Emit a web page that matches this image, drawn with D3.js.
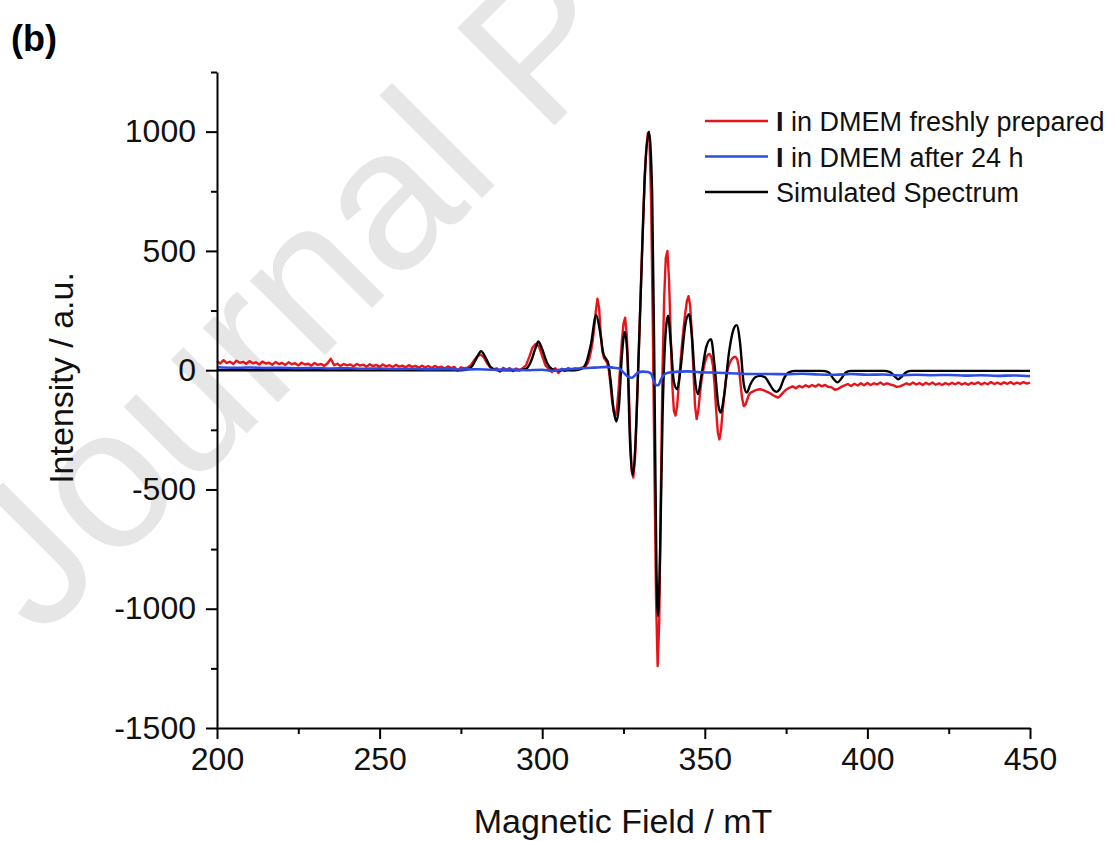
<!DOCTYPE html>
<html>
<head>
<meta charset="utf-8">
<script src="https://cdn.jsdelivr.net/npm/d3@7"></script>
<style>
  body { margin: 0; background: #fff; }
  text { font-family: Arial, "Liberation Sans", sans-serif; }
</style>
</head>
<body>
<div id="container"></div>
<script>
// [field (mT), intensity (a.u.)]
const redFresh = [
  [200,38],[201,28],[202,42],[203,30],[204,36],[205,26],[206,40],[207,31],[208,35],[209,27],
  [210,38],[211,29],[212,33],[213,24],[214,36],[215,28],[216,31],[217,23],[218,34],[219,26],
  [220,30],[221,22],[222,33],[223,25],[224,29],[225,20],[226,31],[227,24],[228,27],[229,19],
  [230,30],[231,22],[232,26],[233,18],[234,29],[235,48],[236,21],[237,27],[238,18],[239,26],
  [240,20],[241,24],[242,16],[243,26],[244,19],[245,23],[246,15],[247,25],[248,17],[249,22],
  [250,14],[251,24],[252,16],[253,21],[254,13],[255,22],[256,15],[257,19],[258,12],[259,21],
  [260,14],[261,18],[262,10],[263,19],[264,12],[265,17],[266,9],[267,18],[268,11],[269,15],
  [270,6],[271,16],[272,9],[273,14],[274,-2],[275,12],[276,8],
  [277,10],[278,20],[279,40],[280,58],[281,66],[282,55],[283,30],[284,12],[285,3],[286,8],
  [287,-6],[288,10],[289,2],[290,9],[291,-4],[292,7],[293,0],[294,8],[295,20],[296,55],
  [297,95],[298,110],[299,100],[300,60],[301,20],[302,5],[303,-8],[304,8],[305,-12],[306,6],
  [307,-3],[308,9],[309,0],[310,7],[311,3],[312,10],[313,12],[313.5,18],[314,30],[314.5,50],
  [315,80],[315.5,120],[316,180],[316.5,250],[317,300],[317.5,260],[318,150],[318.5,80],
  [319,50],[319.5,42],[320,30],[320.5,0],[321,-60],[321.5,-130],[322,-175],[322.5,-190],
  [323,-160],[323.5,-80],[324,20],[324.5,120],[325,195],[325.5,220],[326,150],[326.5,-20],
  [327,-250],[327.5,-420],[328,-450],[328.5,-380],[329,-200],[329.5,0],[330,200],[330.5,420],
  [331,620],[331.5,800],[332,930],[332.5,995],[333,960],[333.5,700],[334,200],[334.5,-400],
  [335,-950],[335.5,-1240],[336,-1050],[336.5,-500],[337,0],[337.5,300],[338,470],[338.5,500],
  [339,380],[339.5,150],[340,-60],[340.5,-170],[341,-190],[341.5,-150],[342,-60],[342.5,30],
  [343,110],[343.5,180],[344,240],[344.5,290],[345,310],[345.5,270],[346,150],[346.5,0],
  [347,-150],[347.5,-205],[348,-170],[348.5,-100],[349,-40],[349.5,0],[350,30],[350.5,55],
  [351,65],[351.5,68],[352,55],[352.5,20],[353,-60],[353.5,-170],[354,-260],[354.5,-290],
  [355,-250],[355.5,-170],[356,-100],[356.5,-40],[357,0],[357.5,25],[358,40],[358.5,50],
  [359,55],[359.5,55],[360,45],[360.5,10],[361,-60],[361.5,-120],[362,-150],[362.5,-145],
  [363,-125],[363.5,-105],[364,-95],[365,-88],[366,-82],[367,-80],[368,-84],[369,-90],
  [370,-96],[371,-105],[372,-112],[372.5,-115],[373,-110],[374,-95],[375,-82],
  [376,-74],[377,-68],[378,-76],[379,-66],[380,-72],[381,-63],[382,-70],[383,-62],[384,-69],
  [385,-60],[386,-68],[387,-62],[388,-70],[389,-72],[390,-82],[391,-78],[392,-70],[393,-64],
  [394,-58],[395,-66],[396,-57],[397,-64],[398,-55],[399,-63],[400,-54],[401,-62],[402,-55],
  [403,-60],[404,-52],[405,-61],[406,-55],[407,-60],[408,-63],[409,-70],[410,-68],[411,-62],
  [412,-55],[413,-61],[414,-52],[415,-60],[416,-54],[417,-62],[418,-53],[419,-60],[420,-52],
  [421,-61],[422,-55],[423,-62],[424,-54],[425,-60],[426,-53],[427,-59],[428,-52],[429,-60],
  [430,-54],[431,-61],[432,-53],[433,-58],[434,-51],[435,-60],[436,-53],[437,-59],[438,-50],
  [439,-58],[440,-52],[441,-59],[442,-51],[443,-57],[444,-50],[445,-58],[446,-52],[447,-57],
  [448,-50],[449,-56],[450,-52]
];

const blueAfter24h = [
  [200,12],[205,10],[210,11],[215,9],[220,10],[225,8],[230,9],[235,7],[240,8],[245,6],
  [250,7],[255,5],[260,6],[265,4],[270,5],[275,3],[280,4],[285,2],[290,3],[295,0],
  [300,2],[303,-3],[306,3],[309,5],[312,8],[315,10],[318,12],[320,14],[322,10],[323.5,8],
  [325,-10],[326.5,-28],[327.5,-32],[328.5,-22],[329.5,-10],[331,-6],[332.5,-8],[333.5,-15],
  [334.3,-45],[335,-62],[335.7,-63],[336.5,-40],[337.5,-18],[339,-10],[342,-6],[345,-5],
  [348,-8],[352,-10],[356,-12],[360,-14],[365,-16],[370,-16],[375,-17],[380,-15],[385,-18],
  [390,-19],[395,-16],[400,-19],[405,-18],[410,-22],[415,-19],[420,-21],[425,-20],[430,-23],
  [435,-21],[440,-24],[445,-22],[450,-25]
];

const blackSimulated = [
  [200,0],[275,0],[277,3],[278.5,18],[280,55],[281.2,80],[282.5,55],[284,15],[285.5,2],[287,0],
  [293,0],[295,5],[296.5,35],[298,95],[298.8,120],[299.8,95],[301.5,30],[303,5],[304.5,0],
  [310,0],[312,5],[313.5,30],[315,110],[316.6,230],[317.8,160],[318.8,70],[319.6,48],[320.3,30],
  [321,-40],[322,-170],[322.8,-215],[323.6,-150],[324.5,60],[325.4,160],[326.2,60],[327,-300],
  [327.8,-440],[328.6,-330],[329.5,0],[330.5,400],[331.5,800],[332.8,1000],[333.8,750],[334.5,0],
  [335.1,-800],[335.6,-1030],[336.2,-800],[337,-200],[338.1,180],[338.7,228],[339.5,120],
  [340.5,-50],[341.5,-80],[342.5,0],[344,190],[345.1,235],[346,150],[347,-40],[347.9,-100],
  [349,-20],[350.5,100],[351.9,130],[353,20],[354.2,-150],[354.9,-178],[355.8,-120],[357.5,80],
  [358.8,170],[359.8,189],[360.8,120],[362,-60],[362.9,-94],[364,-60],[365.5,-30],[367,-24],
  [368.5,-30],[370,-60],[371.2,-85],[372.1,-91],[373,-80],[374.5,-30],[376,-8],[378,-3],
  [386,-3],[388,-8],[389.5,-35],[390.8,-51],[392,-35],[393.5,-8],[395,-3],[405,-3],[407,-8],
  [408.5,-28],[409.5,-38],[410.5,-28],[412,-8],[413.5,-3],[450,-3]
];

const xMajorTicks = [200, 250, 300, 350, 400, 450];
const xMinorTicks = [225, 275, 325, 375, 425];
const yMajorTicks = [-1500, -1000, -500, 0, 500, 1000];
const yMinorTicks = [-1250, -750, -250, 250, 750, 1250];

const legendLabels = [
  { bold: 'I', rest: ' in DMEM freshly prepared', color: '#e8141b' },
  { bold: 'I', rest: ' in DMEM after 24 h', color: '#2c4ce6' },
  { bold: '', rest: 'Simulated Spectrum', color: '#000000' }
];

const width = 1118, height = 841;
const svg = d3.select('#container').append('svg')
  .attr('width', width).attr('height', height)
  .style('background', '#fff');

// watermark (cut by the picture edge, as in the original)
svg.append('text')
  .attr('transform', 'translate(40,640) rotate(-45)')
  .attr('fill', '#e6e6e6')
  .attr('font-size', 200)
  .text('Journal P');

const x = d3.scaleLinear().domain([200, 450]).range([217, 1030]);
const y = d3.scaleLinear().domain([-1500, 1250]).range([728, 72]);

const smooth = d3.line()
  .x(d => x(d[0]))
  .y(d => y(d[1]))
  .curve(d3.curveMonotoneX);

const jagged = d3.line()
  .x(d => x(d[0]))
  .y(d => y(d[1]));

svg.append('path').datum(redFresh)
  .attr('d', jagged).attr('fill', 'none')
  .attr('stroke', legendLabels[0].color).attr('stroke-width', 2.4)
  .attr('stroke-linejoin', 'round');

svg.append('path').datum(blackSimulated)
  .attr('d', smooth).attr('fill', 'none')
  .attr('stroke', '#000').attr('stroke-width', 2.4);

svg.append('path').datum(blueAfter24h)
  .attr('d', smooth).attr('fill', 'none')
  .attr('stroke', legendLabels[1].color).attr('stroke-width', 2.6);

// axes
function styleAxis(g) {
  g.selectAll('.domain').attr('stroke', '#000').attr('stroke-width', 2);
  g.selectAll('.tick line').attr('stroke', '#000').attr('stroke-width', 2);
  g.selectAll('.tick text').attr('font-size', 32).attr('fill', '#111')
    .attr('font-family', 'Arial, "Liberation Sans", sans-serif');
}

svg.append('g')
  .attr('transform', 'translate(0,728)')
  .call(d3.axisBottom(x).tickValues(xMinorTicks).tickSize(6).tickFormat(''))
  .call(g => g.select('.domain').remove())
  .call(styleAxis);

svg.append('g')
  .attr('transform', 'translate(0,728)')
  .call(d3.axisBottom(x).tickValues(xMajorTicks).tickSize(11).tickSizeOuter(0).tickPadding(8))
  .call(styleAxis);

svg.append('g')
  .attr('transform', 'translate(217,0)')
  .call(d3.axisLeft(y).tickValues(yMinorTicks).tickSize(6).tickFormat(''))
  .call(g => g.select('.domain').remove())
  .call(styleAxis);

svg.append('g')
  .attr('transform', 'translate(217,0)')
  .call(d3.axisLeft(y).tickValues(yMajorTicks).tickSize(11).tickSizeOuter(0).tickPadding(10)
    .tickFormat(d => String(d)))
  .call(styleAxis);

// axis titles
svg.append('text')
  .attr('x', 623).attr('y', 833)
  .attr('text-anchor', 'middle')
  .attr('font-size', 34).attr('fill', '#111')
  .text('Magnetic Field / mT');

svg.append('text')
  .attr('transform', 'translate(73,378) rotate(-90)')
  .attr('text-anchor', 'middle')
  .attr('font-size', 34).attr('fill', '#111')
  .text('Intensity / a.u.');

// panel label
svg.append('text')
  .attr('x', 11).attr('y', 51)
  .attr('font-size', 36).attr('font-weight', 'bold')
  .text('(b)');

// legend
const legend = svg.append('g').attr('transform', 'translate(705,121)');
legendLabels.forEach((d, i) => {
  const row = legend.append('g').attr('transform', `translate(0,${i * 35.5})`);
  row.append('line')
    .attr('x1', 0).attr('x2', 63).attr('y1', 0).attr('y2', 0)
    .attr('stroke', d.color).attr('stroke-width', 2.4);
  const t = row.append('text')
    .attr('x', 71).attr('y', 10)
    .attr('font-size', 27).attr('fill', '#111');
  if (d.bold) t.append('tspan').attr('font-weight', 'bold').text(d.bold);
  t.append('tspan').text(d.rest);
});
</script>
</body>
</html>
